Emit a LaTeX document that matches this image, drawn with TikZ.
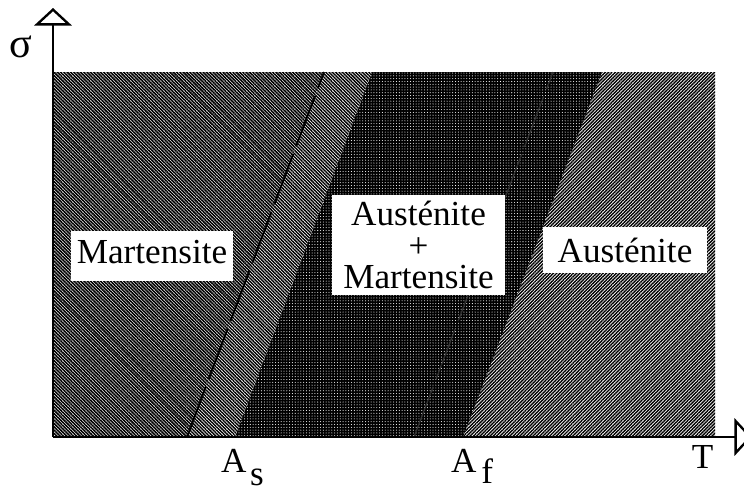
\documentclass[tikz,border=0pt]{standalone}
\usepackage{fontspec}
\setmainfont{Liberation Serif}
\usetikzlibrary{arrows.meta, patterns.meta, positioning}

\begin{document}
\begin{tikzpicture}[x=0.03cm, y=-0.03cm, font=\fontsize{30}{27}\selectfont]
% Styles
\tikzstyle{phasebox} = [rectangle, fill=white, inner sep=0pt, align=center]
\tikzstyle{axis} = [line width=2.5pt, -{Triangle[open, length=15pt, width=32pt, line width=2pt]}]
\tikzstyle{martensite} = [pattern={Lines[angle=-45, distance=2pt, line width=1.4pt]}]
\tikzstyle{martlight} = [pattern={Lines[angle=-45, distance=2pt, line width=1.25pt]}]
\tikzstyle{austenite} = [pattern={Lines[angle=45, distance=2pt, line width=1.2pt]}]
\tikzstyle{mixed} = [fill=black, postaction={pattern={Dots[distance=2.4pt, radius=0.45pt]}, pattern color=white}]
\tikzstyle{axislabel} = [inner sep=0pt]

\useasboundingbox (0,0) rectangle (744,492);

% Corners and boundaries
\coordinate (O) at (53,437);
\coordinate (top) at (53,8);
\coordinate (right) at (752,437);
\coordinate (TL) at (53,72);
\coordinate (TR) at (715,72);
\coordinate (BR) at (715,437);
\coordinate (Dbot) at (187,437);
\coordinate (Dtop) at (324,72);
\coordinate (Asbot) at (235,437);
\coordinate (Astop) at (372,72);
\coordinate (Afbot) at (463,437);
\coordinate (Aftop) at (602,72);
\coordinate (Ebot) at (414,437);
\coordinate (Etop) at (553,72);

% Regions
\path[martensite] (O) -- (TL) -- (Dtop) -- (Dbot) -- cycle;
\path[martlight] (Dbot) -- (Dtop) -- (Astop) -- (Asbot) -- cycle;
\path[mixed] (Asbot) -- (Astop) -- (Aftop) -- (Afbot) -- cycle;
\path[austenite] (Afbot) -- (Aftop) -- (TR) -- (BR) -- cycle;

% Dashed lines
\draw[line width=1.6pt, dash pattern=on 46pt off 7pt] (Dbot) -- (Dtop);
\draw[black!80, line width=1pt, dash pattern=on 46pt off 7pt] (Ebot) -- (Etop);

% Phase labels
\node[phasebox, minimum width=138pt, minimum height=43pt, text depth=7.7pt] (mart) at (152,256) {Martensite};
\node[phasebox, minimum width=148pt, minimum height=85pt] (mix) at (418.5,245) {Austénite\\+\\Martensite};
\node[phasebox, minimum width=140pt, minimum height=39pt] (aust) at (625,250) {Austénite};

% Axes
\draw[axis] (O) -- (top);
\draw[axis] (O) -- (right);

\node (sigma) at (21,47) {\fontsize{36}{36}\selectfont σ};
\node[axislabel, anchor=base west] (As) at (221,472) {A\kern3pt\raisebox{-11.5pt}{s}};
\node[axislabel, anchor=base west] (Af) at (451,472) {A\kern4pt\raisebox{-10pt}{f}};
\node[axislabel, anchor=base] (T) at (702.5,468) {T};
\end{tikzpicture}
\end{document}
